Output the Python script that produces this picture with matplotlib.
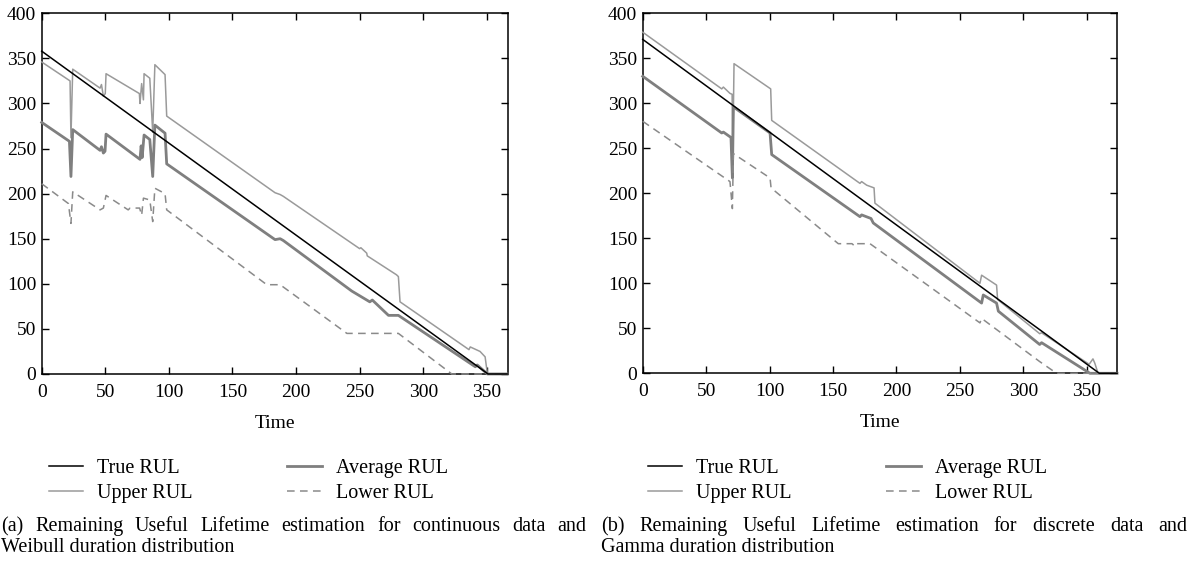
import matplotlib
matplotlib.use("Agg")
import matplotlib.pyplot as plt
from matplotlib.lines import Line2D

plt.rcParams['font.family'] = ['Liberation Serif', 'DejaVu Serif']

# (a) continuous data / Weibull
true_a_t = [0, 351, 366]
true_a_y = [358, 0, 0]
upper_a_t = [0, 22.3, 23, 24.4, 45.9, 47, 48.5, 50, 50.6, 76.8, 77.3, 78.6, 80, 80.5, 85, 87.3, 89,
             97, 98.3, 183.5, 187.5, 190, 250, 251, 255.6, 256, 279, 280.5, 281.8, 336, 337, 344.7,
             348.7, 350.5, 366]
upper_a_y = [346, 325, 262, 338, 317, 321, 308, 311, 333, 311, 300, 322, 304, 333, 328, 268, 343,
             332, 286, 201, 199, 197, 139, 140, 134, 131, 110, 108, 80, 27, 30, 25,
             19, 0, 0]
avg_a_t = [0, 21.8, 23, 24.4, 45.9, 47, 48.5, 49.8, 50.6, 77.3, 78.2, 79, 80.5, 85, 87.3, 89, 97,
           98.3, 183.5, 187.5, 190, 243.8, 258, 260, 272.7, 280.5, 341, 342.5, 350.5, 366]
avg_a_y = [279, 258, 219, 271, 248, 252, 245, 247, 266, 238, 253, 240, 265, 260, 219, 276, 267,
           233, 149, 150, 148, 92, 80, 82, 65, 65, 8, 10, 0, 0]
low_a_t = [0, 21, 23, 24.4, 45.9, 48.5, 50.6, 68, 69.5, 77, 78.6, 80, 85, 87.3, 89, 97, 98.3,
           177, 187.5, 240, 280.5, 322.5, 366]
low_a_y = [211, 189, 167, 202, 182, 184, 198, 182, 184, 184, 176, 195, 193, 169, 206, 200, 182,
           99, 99, 45, 45, 0, 0]

# (b) discrete data / Gamma
true_b_t = [0, 360, 374]
true_b_y = [371, 0, 0]
upper_b_t = [0, 62.3, 63.6, 68.8, 70.5, 71, 72, 100.9, 101.7, 171.3, 172.6, 176.6, 182.4, 183.1,
             265.9, 267.2, 279, 279.8, 313, 314.5, 352, 355, 356.5, 359, 374]
upper_b_y = [379, 316, 318, 311, 310, 240, 344, 316, 281, 211, 213, 209, 206, 189,
             100, 109, 98, 82, 44, 45, 10, 16, 11, 0, 0]
avg_b_t = [0, 62.3, 63.6, 69.6, 70.7, 71.5, 100.4, 101.7, 171.3, 172.6, 180, 181.8, 267.2, 268.5,
           279, 280.4, 313, 314.5, 352.6, 374]
avg_b_y = [330, 267, 268, 262, 217, 296, 267, 243, 174, 176, 172, 167, 78, 87,
           78, 69, 32, 34, 0, 0]
low_b_t = [0, 68.8, 70.7, 71.5, 100.4, 101.2, 154.2, 165, 167.4, 169, 176.6, 179.2, 265.9, 267.2,
           313, 326.3, 374]
low_b_y = [280, 213, 183, 244, 217, 206, 144, 144, 141, 144, 144, 144, 56, 61,
           13, 0, 0]

labels = ['True RUL', 'Upper RUL', 'Average RUL', 'Lower RUL']
captions = [
    ("(a) Remaining Useful Lifetime estimation for continuous data and",
     "Weibull duration distribution"),
    ("(b) Remaining Useful Lifetime estimation for discrete data and",
     "Gamma duration distribution"),
]

fig = plt.figure(figsize=(11.88, 5.80), dpi=100)
ax_a = fig.add_axes([0.0351, 0.3552, 0.3923, 0.6219])
ax_b = fig.add_axes([0.5410, 0.3564, 0.3995, 0.6207])


def draw_panel(ax, true, upper, avg, low, xmax):
    ax.plot(*upper, color='#9a9a9a', lw=1.1, zorder=3, clip_on=False)
    ax.plot(*avg, color='#7f7f7f', lw=2.0, zorder=3, clip_on=False)
    ax.plot(*low, color='#8a8a8a', lw=1.1, ls=(0, (5, 3.5)), zorder=3, clip_on=False)
    ax.plot(*true, color='black', lw=1.1, zorder=4, clip_on=False)
    ax.set_xlim(0, xmax)
    ax.set_ylim(0, 400)
    ax.set_xticks(range(0, 351, 50))
    ax.set_yticks(range(0, 401, 50))
    ax.tick_params(direction='in', top=True, right=True, length=5, width=1, labelsize=14)
    ax.tick_params(axis='x', pad=7)
    ax.tick_params(axis='y', pad=4)
    for s in ax.spines.values():
        s.set_linewidth(1.1)
    ax.set_xlabel('Time', fontsize=14, labelpad=10)


draw_panel(ax_a, (true_a_t, true_a_y), (upper_a_t, upper_a_y), (avg_a_t, avg_a_y),
           (low_a_t, low_a_y), 366.5)
draw_panel(ax_b, (true_b_t, true_b_y), (upper_b_t, upper_b_y), (avg_b_t, avg_b_y),
           (low_b_t, low_b_y), 374.2)

handles = [Line2D([], [], color='black', lw=1.1),
           Line2D([], [], color='#9a9a9a', lw=1.1),
           Line2D([], [], color='#7f7f7f', lw=2.0),
           Line2D([], [], color='#8a8a8a', lw=1.1, ls=(0, (5, 3.5)))]

for x0 in (49 / 1188, 648 / 1188):
    fig.legend(handles, labels, loc='center left', bbox_to_anchor=(x0, 1 - 481 / 580),
               ncol=2, frameon=False, fontsize=14.5, borderpad=0, borderaxespad=0,
               handlelength=1.7, handletextpad=0.7, columnspacing=4.7, labelspacing=0.25)

renderer = fig.canvas.get_renderer()


def justified(text, x0, x1, y, size):
    # spread words across the column width, like the justified caption
    words = text.split()
    arts = [fig.text(0, y, w, fontsize=size, va='baseline', ha='left') for w in words]
    widths = [t.get_window_extent(renderer).width / fig.bbox.width for t in arts]
    gap = (x1 - x0 - sum(widths)) / (len(words) - 1)
    x = x0
    for t, w in zip(arts, widths):
        t.set_x(x)
        x += w + gap


cap_size = 14.5
for (line1, line2), (x0, x1) in zip(captions, [(1, 586), (601, 1187)]):
    justified(line1, x0 / 1188, x1 / 1188, 1 - 531 / 580, cap_size)
    fig.text(x0 / 1188, 1 - 552 / 580, line2, fontsize=cap_size, va='baseline', ha='left')

fig.savefig('out.png', dpi=100)
